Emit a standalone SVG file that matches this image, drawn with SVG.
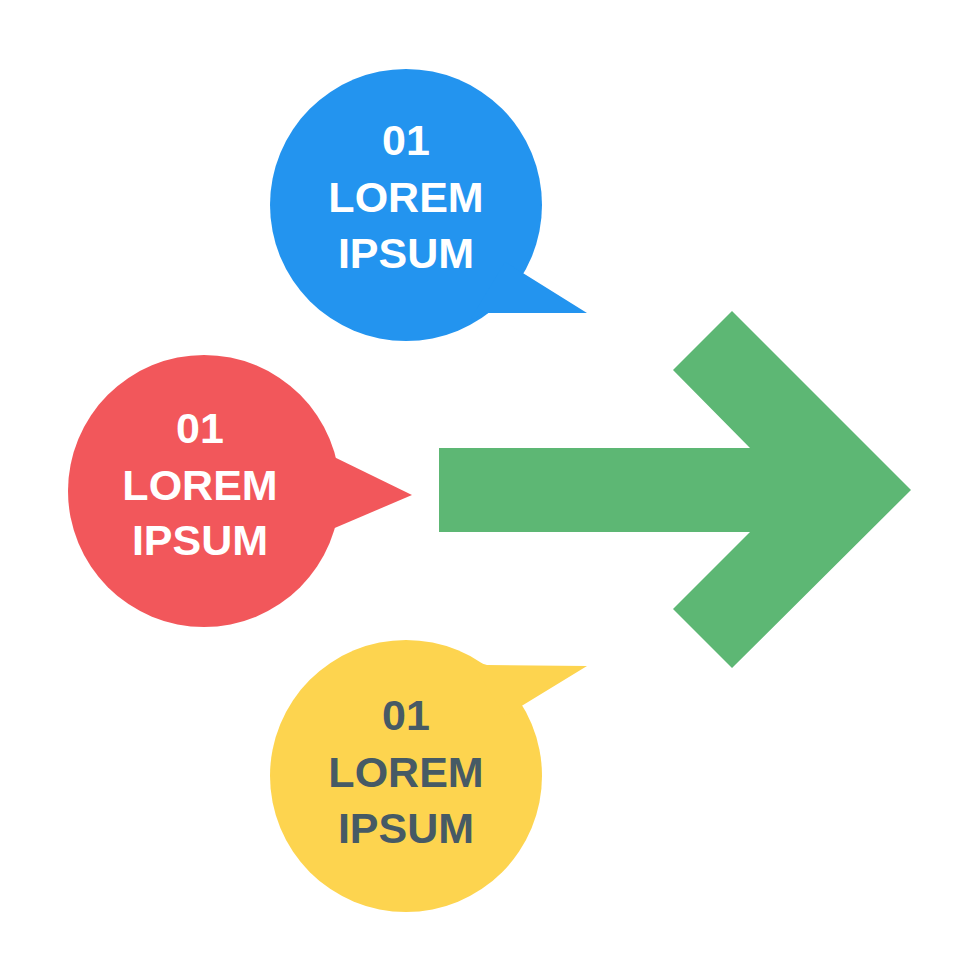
<svg xmlns="http://www.w3.org/2000/svg" width="980" height="980" viewBox="0 0 980 980">
<style>
.lbl{font-family:"Liberation Sans","Noto Sans",Arial,sans-serif;font-weight:700;font-size:43px;text-anchor:middle}
.w{fill:#FFFFFF}
.d{fill:#465A65}
.blue{fill:#2394EF}
.red{fill:#F2575B}
.yellow{fill:#FDD44F}
.green{fill:#5DB774}
</style>
<rect width="980" height="980" fill="#FFFFFF"/>
<g id="bubble-blue">
<circle class="blue" cx="406" cy="205" r="136"/>
<polygon class="blue" points="505,262 587,313 488,313 470,320"/>
<text class="lbl w" x="406" y="155">01</text>
<text class="lbl w" x="406" y="212">LOREM</text>
<text class="lbl w" x="406" y="268">IPSUM</text>
</g>
<g id="bubble-red">
<circle class="red" cx="204" cy="491" r="136"/>
<polygon class="red" points="330,455 412,495 330,530"/>
<text class="lbl w" x="200" y="443">01</text>
<text class="lbl w" x="200" y="500">LOREM</text>
<text class="lbl w" x="200" y="555">IPSUM</text>
</g>
<g id="bubble-yellow">
<circle class="yellow" cx="406" cy="776" r="136"/>
<polygon class="yellow" points="470,660 487,665 587,666 505,716"/>
<text class="lbl d" x="406" y="730">01</text>
<text class="lbl d" x="406" y="787">LOREM</text>
<text class="lbl d" x="406" y="843">IPSUM</text>
</g>
<g id="arrow">
<polygon class="green" points="439,448 750,448 673,370 732,311 911,490 732,668 673,609 750,532 439,532"/>
</g>
<g id="connectors"></g>
</svg>
